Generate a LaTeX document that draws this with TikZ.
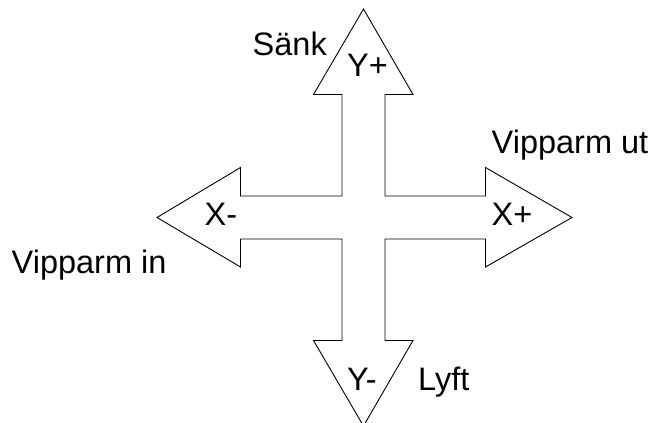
\documentclass[tikz,border=0pt]{standalone}
\usepackage{fontspec}
\setmainfont{Liberation Sans}
\begin{document}
\begin{tikzpicture}[x=1pt,y=-1pt,
  lbl/.style={anchor=base west,inner sep=0pt,font=\fontsize{32.5}{38}\selectfont},
  outline/.style={draw=black,line width=0.9pt,line join=miter}]
\useasboundingbox (0,0) rectangle (654,423);
\clip (0,0) rectangle (654,423);
\draw[outline]
  (363.5,9) -- (413,94.5) -- (385,94.5) -- (385,196) -- (485.5,196) -- (485.5,167.5)
  -- (572,217.5) -- (485.5,267) -- (485.5,239) -- (385,239) -- (385,340.5) -- (413,340.5)
  -- (363.5,426) -- (313.5,340.5) -- (342,340.5) -- (342,239) -- (240.5,239) -- (240.5,267)
  -- (157,217.5) -- (240.5,167.5) -- (240.5,196) -- (342,196) -- (342,94.5) -- (313.5,94.5) -- cycle;
\node[lbl] (sank) at (252.5,55.7) {Sänk};
\node[lbl] (yp) at (347,76) {Y+};
\node[lbl] (ut) at (491.5,153.3) {Vipparm ut};
\node[lbl] (xm) at (204.5,225) {X-};
\node[lbl] (xp) at (491.5,225) {X+};
\node[lbl] (in) at (11.5,273.3) {Vipparm in};
\node[lbl] (ym) at (347,390) {Y-};
\node[lbl] (lyft) at (418,390) {Lyft};
\end{tikzpicture}
\end{document}
